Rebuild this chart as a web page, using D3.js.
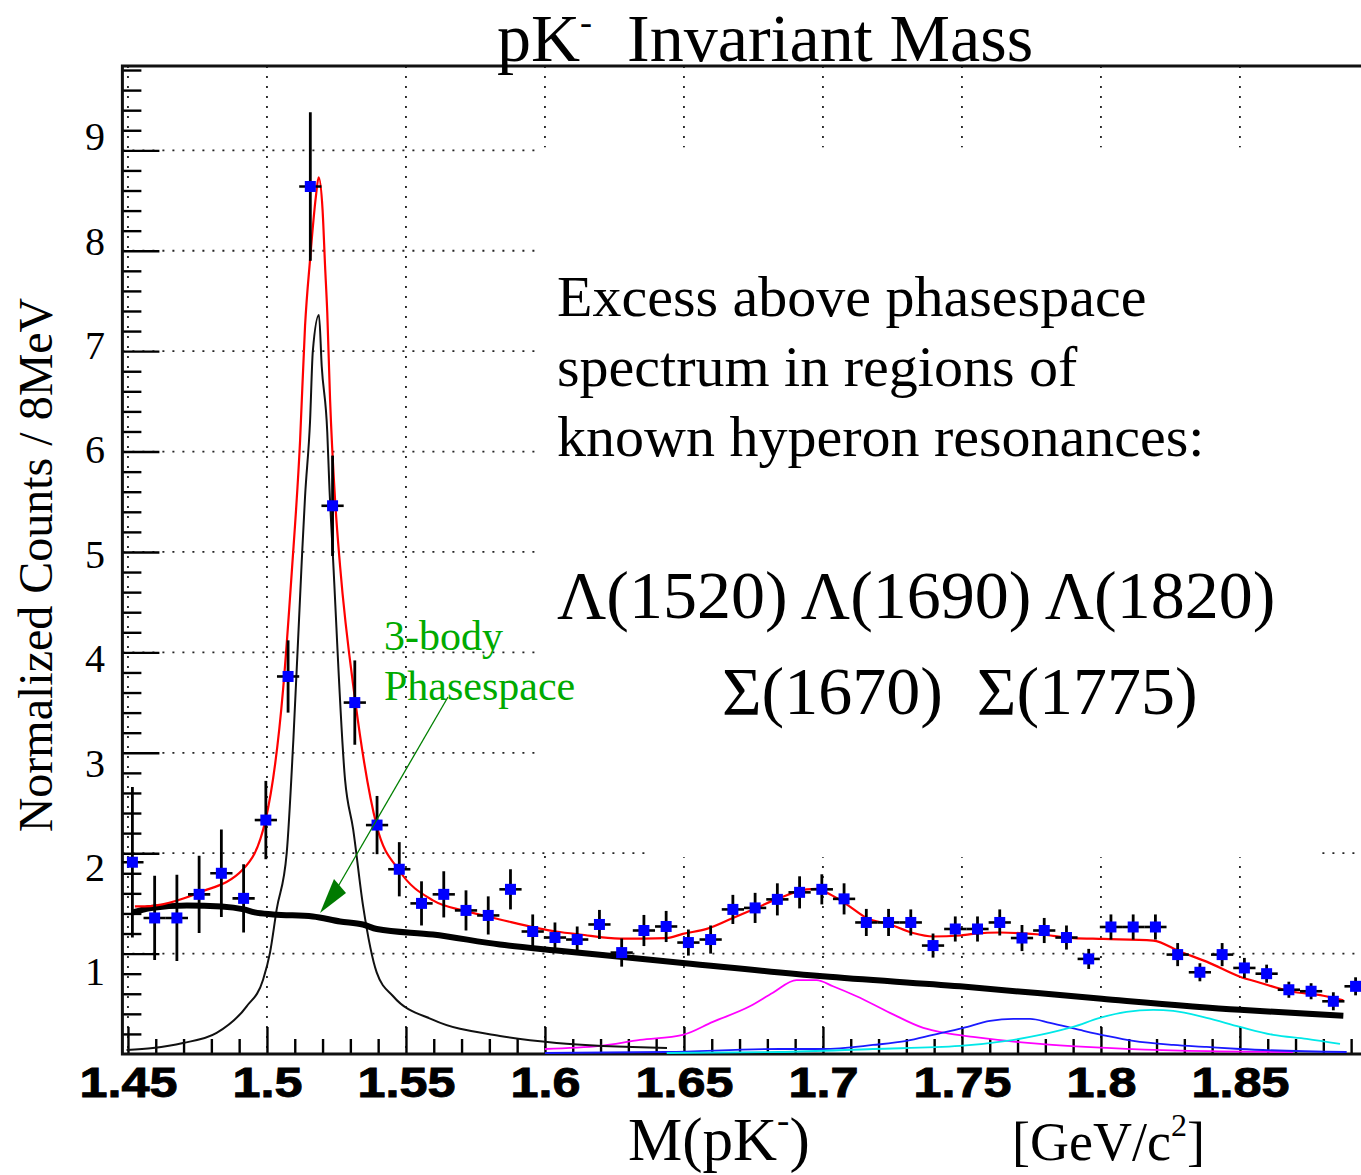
<!DOCTYPE html>
<html>
<head>
<meta charset="utf-8">
<script src="https://cdn.jsdelivr.net/npm/d3@7/dist/d3.min.js"></script>
<style>
  body { margin: 0; background: #fff; }
  svg { display: block; }
</style>
</head>
<body>
<script>
`use strict`;

// pK- invariant mass histogram, bins of 8 MeV
const binStart = 1.4516, binWidth = 0.008;

const counts = [1.91, 1.355, 1.355, 1.59, 1.80, 1.55, 2.33, 3.76, 8.64, 5.46,
  3.50, 2.28, 1.84, 1.50, 1.59, 1.43, 1.38, 1.64, 1.22, 1.16,
  1.14, 1.29, 1.01, 1.23, 1.27, 1.11, 1.14, 1.44, 1.455, 1.54,
  1.61, 1.64, 1.545, 1.31, 1.31, 1.31, 1.08, 1.245, 1.245, 1.31,
  1.155, 1.23, 1.16, 0.947, 1.265, 1.265, 1.265, 0.99, 0.814, 0.99,
  0.857, 0.80, 0.64, 0.625, 0.525, 0.674];

const errors = [0.75, 0.42, 0.43, 0.385, 0.435, 0.34, 0.39, 0.36, 0.74, 0.5,
  0.42, 0.29, 0.27, 0.22, 0.23, 0.20, 0.19, 0.20, 0.17, 0.15,
  0.13, 0.145, 0.14, 0.155, 0.155, 0.13, 0.14, 0.145, 0.15, 0.16,
  0.16, 0.15, 0.155, 0.135, 0.135, 0.13, 0.12, 0.125, 0.125, 0.13,
  0.13, 0.125, 0.12, 0.10, 0.125, 0.125, 0.125, 0.115, 0.09, 0.115,
  0.10, 0.09, 0.08, 0.08, 0.09, 0.09];

// total fit (red)
const fitMass = [1.4525, 1.4561, 1.4759, 1.4914, 1.4995, 1.5058, 1.5089, 1.5119, 1.5137, 1.5155,
  1.5176, 1.5186, 1.5200, 1.5209, 1.5217, 1.5227, 1.5245, 1.5263, 1.5317, 1.5395,
  1.5478, 1.5597, 1.5719, 1.5838, 1.6040, 1.6126, 1.6270, 1.6438, 1.6496, 1.6582,
  1.6676, 1.6761, 1.6845, 1.6941, 1.6977, 1.7025, 1.7085, 1.7157, 1.7241, 1.7324,
  1.7396, 1.7493, 1.7541, 1.7637, 1.7781, 1.7900, 1.8008, 1.8188, 1.8284, 1.8380,
  1.8500, 1.8572, 1.8680, 1.8800, 1.8872];
const fitValue = [1.47, 1.47, 1.61, 1.84, 2.33, 3.63, 4.79, 6.1, 7.25, 7.91,
  8.54, 8.73, 8.41, 7.85, 7.38, 6.52, 5.52, 4.86, 3.53, 2.27,
  1.82, 1.53, 1.42, 1.34, 1.22, 1.19, 1.15, 1.155, 1.196, 1.246,
  1.355, 1.455, 1.555, 1.64, 1.645, 1.59, 1.49, 1.355, 1.29, 1.205,
  1.17, 1.18, 1.196, 1.21, 1.19, 1.155, 1.146, 1.13, 1.02, 0.92,
  0.77, 0.71, 0.625, 0.58, 0.535];

// 3-body phasespace (thick black)
const psMass = [1.4518, 1.4583, 1.4712, 1.4837, 1.4917, 1.4956, 1.5022, 1.5165, 1.5263, 1.5345,
  1.5395, 1.5597, 1.5838, 1.6042, 1.6496, 1.6999, 1.7493, 1.8003, 1.8500, 1.8872];
const psValue = [1.41, 1.455, 1.48, 1.47, 1.44, 1.41, 1.39, 1.37, 1.32, 1.29,
  1.245, 1.19, 1.09, 1.03, 0.907, 0.774, 0.674, 0.55, 0.44, 0.38];

// Lambda(1520) component (thin black)
const l1520Mass = [1.4495, 1.4590, 1.4698, 1.4819, 1.4927, 1.4986, 1.5011, 1.5035, 1.5071, 1.5095,
  1.5125, 1.5137, 1.5155, 1.5165, 1.5187, 1.5197, 1.5217, 1.5224, 1.5238, 1.5281,
  1.5310, 1.5346, 1.5395, 1.5454, 1.5598, 1.5838, 1.6042, 1.6439];
const l1520Value = [0.04, 0.06, 0.11, 0.21, 0.475, 0.74, 1.01, 1.44, 2.0, 3.13,
  4.9, 5.55, 6.3, 7.0, 7.36, 6.85, 6.19, 5.69, 4.92, 2.73,
  2.24, 1.47, 0.81, 0.575, 0.34, 0.18, 0.11, 0.06];

// Lambda(1690) component (magenta)
const l1690Mass = [1.6000, 1.6198, 1.6342, 1.6496, 1.6604, 1.6737, 1.6820, 1.6905, 1.6977, 1.7036,
  1.7121, 1.7241, 1.7361, 1.7439, 1.7540, 1.7781, 1.8021, 1.8284, 1.8691];
const l1690Value = [0.05, 0.08, 0.14, 0.19, 0.32, 0.475, 0.61, 0.735, 0.735, 0.675,
  0.575, 0.41, 0.26, 0.21, 0.17, 0.10, 0.06, 0.033, 0.02];

// Sigma(1775) component (blue)
const s1775Mass = [1.6000, 1.6438, 1.6845, 1.7000, 1.7180, 1.7301, 1.7396, 1.7505, 1.7601, 1.7685,
  1.7745, 1.7817, 1.7924, 1.8021, 1.8116, 1.8260, 1.8380, 1.8500, 1.8884];
const s1775Value = [0.01, 0.02, 0.05, 0.05, 0.09, 0.13, 0.19, 0.26, 0.33, 0.35,
  0.35, 0.31, 0.24, 0.18, 0.13, 0.09, 0.07, 0.05, 0.02];

// Lambda(1820) component (cyan)
const l1820Mass = [1.6438, 1.6845, 1.7180, 1.7493, 1.7661, 1.7781, 1.7900, 1.7996, 1.8092, 1.8188,
  1.8260, 1.8380, 1.8500, 1.8620, 1.8740, 1.8860];
const l1820Value = [0.01, 0.02, 0.05, 0.08, 0.13, 0.19, 0.27, 0.36, 0.42, 0.44,
  0.43, 0.36, 0.27, 0.19, 0.15, 0.10];

const xMajor = [1.45, 1.5, 1.55, 1.6, 1.65, 1.7, 1.75, 1.8, 1.85];
const yMajor = [1, 2, 3, 4, 5, 6, 7, 8, 9];
const textLines = [`Excess above phasespace`, `spectrum in regions of`, `known hyperon resonances:`];

/** **/

const W = 1361, H = 1175;
const serif = `"Liberation Serif", "DejaVu Serif", serif`;
const sans = `"Liberation Sans", Arial, sans-serif`;

const x = d3.scaleLinear().domain([1.448, 1.8965]).range([122.4, 1369.2]);
const y = d3.scaleLinear().domain([0, 9.84]).range([1054, 66]);
// the tick numbers on the left were set slightly off the grid in the original
const yLab = d3.scaleLinear().domain([1, 9]).range([972, 137]);

const svg = d3.select(`body`).append(`svg`).attr(`width`, W).attr(`height`, H)
  .style(`font-family`, serif);

svg.append(`defs`).append(`clipPath`).attr(`id`, `plot`)
  .append(`rect`).attr(`x`, x(1.448)).attr(`y`, y(9.84)).attr(`width`, W - x(1.448)).attr(`height`, y(0) - y(9.84));

// grid
let grid = svg.append(`g`).attr(`stroke`, `#222`).attr(`stroke-width`, 1.8).attr(`stroke-dasharray`, `2,8`);

grid.selectAll(`.gv`).data(xMajor).enter().append(`line`)
  .attr(`x1`, d => x(d)).attr(`x2`, d => x(d)).attr(`y1`, y(9.84)).attr(`y2`, y(0));

grid.selectAll(`.gh`).data(yMajor).enter().append(`line`)
  .attr(`x1`, x(1.448)).attr(`x2`, W).attr(`y1`, d => y(d)).attr(`y2`, d => y(d));

// the text panel of the original blanks the grid behind it
svg.append(`rect`).attr(`x`, x(1.5985)).attr(`y`, y(9.03)).attr(`width`, W - x(1.5985)).attr(`height`, y(2.05) - y(9.03)).attr(`fill`, `#fff`);
svg.append(`rect`).attr(`x`, x(1.637)).attr(`y`, y(2.06)).attr(`width`, x(1.8795) - x(1.637)).attr(`height`, y(1.96) - y(2.06)).attr(`fill`, `#fff`);

// ticks
let xMinor = d3.range(1.45, 1.895, 0.01).filter(d => Math.abs(d * 20 - Math.round(d * 20)) > 1e-6);
let yMinor = d3.range(0.2, 9.81, 0.2).filter(d => Math.abs(d - Math.round(d)) > 1e-6);

let tickStyle = g => {
  g.select(`.domain`).remove();
  g.selectAll(`line`).attr(`stroke`, `#000`).attr(`stroke-width`, 2.4);
  g.selectAll(`text`).remove();
};

svg.append(`g`).attr(`transform`, `translate(0,${y(0)})`).call(d3.axisTop(x).tickValues(xMajor).tickSize(27)).call(tickStyle);
svg.append(`g`).attr(`transform`, `translate(0,${y(0)})`).call(d3.axisTop(x).tickValues(xMinor).tickSize(15)).call(tickStyle);
svg.append(`g`).attr(`transform`, `translate(${x(1.448)},0)`).call(d3.axisRight(y).tickValues(yMajor).tickSize(37)).call(tickStyle);
svg.append(`g`).attr(`transform`, `translate(${x(1.448)},0)`).call(d3.axisRight(y).tickValues(yMinor).tickSize(19)).call(tickStyle);

// frame
svg.append(`path`)
  .attr(`d`, `M${W + 5},${y(9.84)}H${x(1.448)}V${y(0)}H${W + 5}`)
  .attr(`fill`, `none`).attr(`stroke`, `#111`).attr(`stroke-width`, 3);

// tick labels
let xl = svg.append(`g`).attr(`transform`, `translate(0,${y(0)})`)
  .call(d3.axisBottom(x).tickValues(xMajor).tickSize(0).tickPadding(13).tickFormat(d3.format(`.2~f`)));
xl.select(`.domain`).remove();
xl.selectAll(`text`)
  .attr(`font-family`, sans).attr(`font-weight`, `bold`).attr(`font-size`, 42)
  .attr(`fill`, `#000`).attr(`stroke`, `#000`).attr(`stroke-width`, 0.9)
  .attr(`textLength`, function () { let s = this.textContent; return (s.length - 1) * 28 + 14; })
  .attr(`lengthAdjust`, `spacingAndGlyphs`);

let yl = svg.append(`g`).attr(`transform`, `translate(108,0)`)
  .call(d3.axisLeft(yLab).tickValues(yMajor).tickSize(0).tickPadding(3));
yl.select(`.domain`).remove();
yl.selectAll(`text`).attr(`font-family`, serif).attr(`font-size`, 40).attr(`fill`, `#000`);

// curves
let plot = svg.append(`g`).attr(`clip-path`, `url(#plot)`);

let line = d3.line().x(d => x(d[0])).y(d => y(d[1])).curve(d3.curveMonotoneX);

let curves = [
  [l1690Mass, l1690Value, `#ff00ff`, 1.8],
  [s1775Mass, s1775Value, `#1a1aff`, 1.8],
  [l1820Mass, l1820Value, `#00e8e8`, 1.8],
  [l1520Mass, l1520Value, `#111`, 2],
  [psMass, psValue, `#000`, 6],
  [fitMass, fitValue, `#ff0000`, 2.2]
];

curves.forEach(C => {
  plot.append(`path`).datum(d3.zip(C[0], C[1]))
    .attr(`d`, line).attr(`fill`, `none`).attr(`stroke`, C[2]).attr(`stroke-width`, C[3]);
});

// data points with error bars
let pts = counts.map((v, i) => ({m: binStart + i * binWidth, v: v, e: errors[i]}));

plot.selectAll(`.ev`).data(pts).enter().append(`line`)
  .attr(`x1`, d => x(d.m)).attr(`x2`, d => x(d.m))
  .attr(`y1`, d => y(d.v + d.e)).attr(`y2`, d => y(d.v - d.e))
  .attr(`stroke`, `#000`).attr(`stroke-width`, 2.8);

plot.selectAll(`.eh`).data(pts).enter().append(`line`)
  .attr(`x1`, d => x(d.m - binWidth / 2)).attr(`x2`, d => x(d.m + binWidth / 2))
  .attr(`y1`, d => y(d.v)).attr(`y2`, d => y(d.v))
  .attr(`stroke`, `#000`).attr(`stroke-width`, 2.6);

plot.selectAll(`.pt`).data(pts).enter().append(`rect`)
  .attr(`x`, d => x(d.m) - 5.5).attr(`y`, d => y(d.v) - 5.5)
  .attr(`width`, 11).attr(`height`, 11).attr(`fill`, `#0000ff`);

// titles
let title = svg.append(`text`).attr(`x`, 497).attr(`y`, 61).attr(`font-size`, 68).attr(`fill`, `#000`);
title.append(`tspan`).text(`pK`);
title.append(`tspan`).attr(`dy`, -27).attr(`font-size`, 36).text(`-`);
title.append(`tspan`).attr(`dy`, 27).attr(`dx`, 18).text(` Invariant Mass`);

svg.append(`text`).attr(`transform`, `translate(52,565) rotate(-90)`)
  .attr(`text-anchor`, `middle`).attr(`font-size`, 48).attr(`fill`, `#000`)
  .text(`Normalized Counts / 8MeV`);

let xt = svg.append(`text`).attr(`x`, 628).attr(`y`, 1160).attr(`font-size`, 61).attr(`fill`, `#000`);
xt.append(`tspan`).text(`M(pK`);
xt.append(`tspan`).attr(`dy`, -27).attr(`font-size`, 37).text(`-`);
xt.append(`tspan`).attr(`dy`, 27).text(`)`);

let ut = svg.append(`text`).attr(`x`, 1012).attr(`y`, 1160).attr(`font-size`, 54).attr(`fill`, `#000`);
ut.append(`tspan`).text(`[GeV/c`);
ut.append(`tspan`).attr(`dy`, -24).attr(`font-size`, 32).text(`2`);
ut.append(`tspan`).attr(`dy`, 24).text(`]`);

// annotation panel
svg.selectAll(`.note`).data(textLines).enter().append(`text`)
  .attr(`x`, 557).attr(`y`, (d, i) => 316 + i * 70)
  .attr(`font-size`, 58).attr(`fill`, `#000`).text(d => d);

svg.append(`text`).attr(`x`, 557).attr(`y`, 618).attr(`font-size`, 68).attr(`fill`, `#000`)
  .text(`Λ(1520) Λ(1690) Λ(1820)`);
svg.append(`text`).attr(`x`, 722).attr(`y`, 714).attr(`font-size`, 68).attr(`fill`, `#000`)
  .attr(`xml:space`, `preserve`).style(`white-space`, `pre`)
  .text(`Σ(1670)  Σ(1775)`);

// 3-body phasespace label and arrow
svg.append(`text`).attr(`x`, 384).attr(`y`, 650).attr(`font-size`, 42).attr(`fill`, `#00aa00`).text(`3-body`);
svg.append(`text`).attr(`x`, 384).attr(`y`, 700).attr(`font-size`, 42).attr(`fill`, `#00aa00`).text(`Phasespace`);

svg.append(`line`).attr(`x1`, 448).attr(`y1`, 697).attr(`x2`, 336).attr(`y2`, 890)
  .attr(`stroke`, `#008000`).attr(`stroke-width`, 1.3);
svg.append(`path`).attr(`d`, `M320,913L346,893L334,879Z`).attr(`fill`, `#007a00`);
</script>
</body>
</html>
